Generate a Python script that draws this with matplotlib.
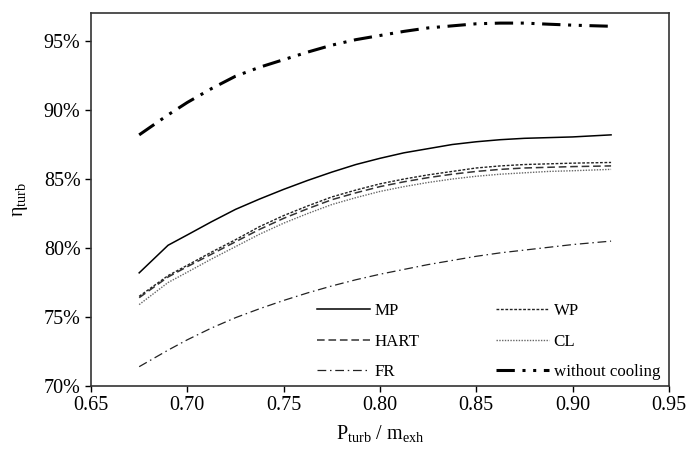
import numpy as np
import matplotlib.pyplot as plt
from matplotlib.ticker import FuncFormatter, MultipleLocator

plt.rcParams['font.family'] = ['Liberation Serif', 'DejaVu Serif']
plt.rcParams['mathtext.fontset'] = 'custom'
plt.rcParams['mathtext.rm'] = 'Liberation Serif'

# Datos (eficiencia en %)
x = [0.675, 0.69, 0.70, 0.7125, 0.725, 0.7375, 0.75, 0.7625, 0.775, 0.7875,
     0.80, 0.8125, 0.825, 0.8375, 0.85, 0.8625, 0.875, 0.8875, 0.90, 0.92]
mp = [78.2, 80.2, 80.95, 81.9, 82.8, 83.55, 84.25, 84.9, 85.5, 86.05,
      86.5, 86.9, 87.2, 87.5, 87.7, 87.85, 87.95, 88.0, 88.05, 88.2]
wp = [76.5, 78.0, 78.75, 79.7, 80.6, 81.55, 82.35, 83.05, 83.7, 84.2,
      84.65, 85.0, 85.3, 85.55, 85.8, 85.95, 86.05, 86.1, 86.15, 86.2]
hart = [76.4, 77.9, 78.65, 79.55, 80.45, 81.35, 82.15, 82.85, 83.5, 84.0,
        84.45, 84.8, 85.1, 85.35, 85.55, 85.7, 85.8, 85.85, 85.9, 85.95]
cl = [75.9, 77.5, 78.25, 79.2, 80.1, 81.0, 81.8, 82.5, 83.15, 83.65,
      84.1, 84.45, 84.75, 85.0, 85.2, 85.35, 85.45, 85.55, 85.6, 85.7]
fr = [71.4, 72.6, 73.35, 74.2, 74.95, 75.6, 76.2, 76.75, 77.25, 77.7,
      78.1, 78.45, 78.8, 79.1, 79.4, 79.65, 79.85, 80.05, 80.25, 80.5]
sin_refr = [88.2, 89.65, 90.55, 91.55, 92.45, 93.1, 93.65, 94.2, 94.7, 95.1,
            95.4, 95.7, 95.95, 96.1, 96.25, 96.3, 96.3, 96.22, 96.15, 96.07]

fig = plt.figure(figsize=(6.86, 4.49), dpi=100)
ax = fig.add_axes([0.1327, 0.1403, 0.8423, 0.8307])

ax.plot(x, mp, color='black', lw=1.1, ls='-', label='MP')
ax.plot(x, hart, color='#333333', lw=1.1, ls=(0, (5, 2.5)), label='HART')
ax.plot(x, fr, color='#222222', lw=0.9, ls=(0, (7, 3, 1.2, 3)), label='FR')
ax.plot(x, wp, color='#222222', lw=1.0, ls=(0, (2, 1.2)), label='WP')
ax.plot(x, cl, color='#666666', lw=1.0, ls=(0, (1, 1)), label='CL')
ax.plot(x, sin_refr, color='black', lw=2.2, ls=(0, (6, 2.5, 1, 2.5, 1, 2.5)),
        label='without cooling')

ax.set_xlim(0.65, 0.95)
ax.set_ylim(70, 97.03)
ax.xaxis.set_major_locator(MultipleLocator(0.05))
ax.yaxis.set_major_locator(MultipleLocator(5))
ax.xaxis.set_major_formatter(FuncFormatter(lambda v, p: f'{v:.2f}'))
ax.yaxis.set_major_formatter(FuncFormatter(lambda v, p: f'{v:.0f}%'))
ax.tick_params(direction='out', length=4, width=1, labelsize=14.5, colors='black')
for s in ax.spines.values():
    s.set_color('#333333')
    s.set_linewidth(1.2)

ax.set_xlabel(r'P$_{\mathregular{turb}}$ / m$_{\mathregular{exh}}$', fontsize=14.5, labelpad=6)
ax.set_ylabel(r'$\mathregular{\eta_{turb}}$', fontsize=14.5, labelpad=10)

ax.legend(ncol=2, frameon=False, fontsize=12.2, loc='lower left',
          bbox_to_anchor=(0.365, -0.025), handlelength=3.1, handletextpad=0.3,
          columnspacing=4.5, labelspacing=0.85)

fig.savefig('out.png', dpi=100)
